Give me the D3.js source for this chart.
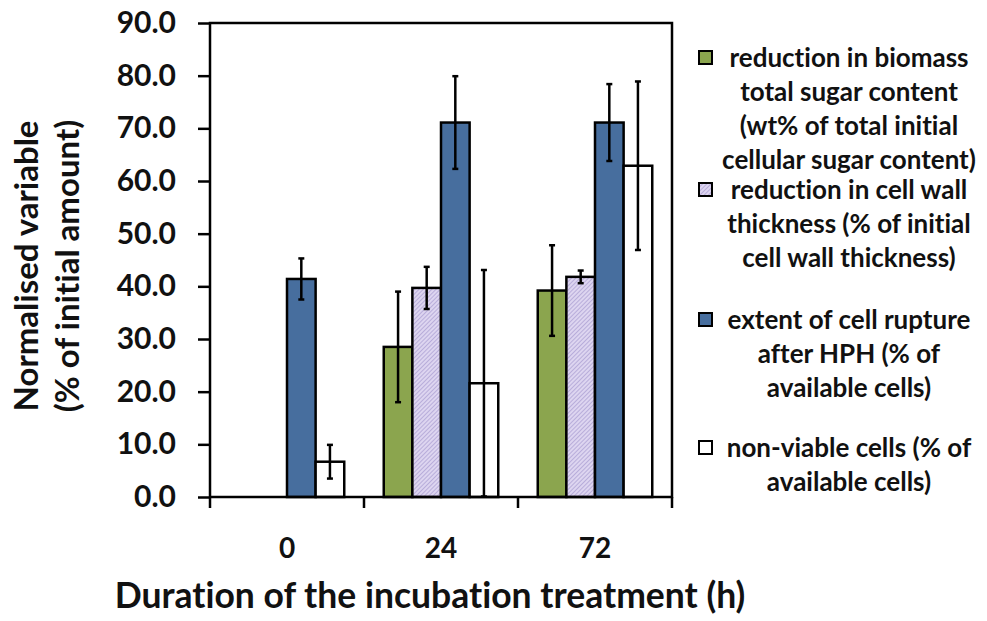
<!DOCTYPE html>
<html>
<head>
<meta charset="utf-8">
<script src="https://cdn.jsdelivr.net/npm/d3@7"></script>
<style>
  body { margin: 0; background: #fff; }
  text { font-family: Lato, "Open Sans", sans-serif; font-weight: bold; fill: #111; font-variant-ligatures: none; }
</style>
</head>
<body>
<svg id="svg"></svg>
<script>
// hours of incubation
const durations = ['0', '24', '72'];
const seriesKeys = ['biomass', 'wall', 'rupture', 'nonviable'];

// bar heights per series (null = not measured)
const biomassSugar = [null, 28.5, 39.2];
const wallThickness = [null, 39.7, 41.8];
const cellRupture = [41.4, 71.1, 71.1];
const nonViable = [6.7, 21.6, 62.9];

// error bar half-widths
const biomassErr = [null, 10.5, 8.6];
const wallErr = [null, 4.0, 1.2];
const ruptureErr = [3.9, 8.8, 7.3];
const nonViableErr = [3.2, 21.5, 16.0];

const yTicks = [0, 10, 20, 30, 40, 50, 60, 70, 80, 90];

const legendLines = [
  ['reduction in biomass', 'total sugar content', '(wt% of total initial', 'cellular sugar content)'],
  ['reduction in cell wall', 'thickness (% of initial', 'cell wall thickness)'],
  ['extent of cell rupture', 'after HPH (% of', 'available cells)'],
  ['non-viable cells (% of', 'available cells)']
];

const width = 987;
const height = 621;
const margin = { top: 23, right: 315, bottom: 124, left: 210 };

const svg = d3.select('#svg')
  .attr('width', width)
  .attr('height', height);

// hatch for the cell wall series
const defs = svg.append('defs');
const hatch = defs.append('pattern')
  .attr('id', 'hatch')
  .attr('patternUnits', 'userSpaceOnUse')
  .attr('width', 3)
  .attr('height', 3)
  .attr('patternTransform', 'rotate(45)');
hatch.append('rect')
  .attr('width', 3)
  .attr('height', 3)
  .attr('fill', '#ddd5f0');
hatch.append('line')
  .attr('x1', 0).attr('y1', 0)
  .attr('x2', 0).attr('y2', 3)
  .attr('stroke', '#a093cb')
  .attr('stroke-width', 1.2);

const fills = {
  biomass: '#8ba54e',
  wall: 'url(#hatch)',
  rupture: '#476e9e',
  nonviable: '#ffffff'
};

const rows = durations.map((d, i) => ({
  duration: d,
  values: [
    { key: 'biomass', value: biomassSugar[i], err: biomassErr[i] },
    { key: 'wall', value: wallThickness[i], err: wallErr[i] },
    { key: 'rupture', value: cellRupture[i], err: ruptureErr[i] },
    { key: 'nonviable', value: nonViable[i], err: nonViableErr[i] }
  ]
}));

const x0 = d3.scaleBand()
  .domain(durations)
  .range([margin.left, width - margin.right])
  .padding(0);

const x1 = d3.scaleBand()
  .domain(seriesKeys)
  .range([0, x0.bandwidth()])
  .paddingInner(0)
  .paddingOuter(0.69);

const y = d3.scaleLinear()
  .domain([0, 90])
  .range([height - margin.bottom, margin.top]);

// axes
svg.append('g')
  .attr('transform', `translate(${margin.left},0)`)
  .call(d3.axisLeft(y).tickValues(yTicks).tickFormat(d3.format('.1f')).tickSize(12).tickPadding(22))
  .call(g => g.select('.domain').remove())
  .call(g => g.selectAll('line').attr('stroke', '#000').attr('stroke-width', 2.5))
  .call(g => g.selectAll('text').attr('font-size', '30px').attr('font-family', 'Lato').attr('font-weight', 'bold').attr('fill', '#111'));

const xAxis = svg.append('g')
  .attr('transform', `translate(0,${height - margin.bottom})`);
xAxis.selectAll('line')
  .data(durations.map(d => x0(d)).concat([x0.range()[1]]))
  .join('line')
  .attr('x1', d => d).attr('x2', d => d)
  .attr('y1', 0).attr('y2', 11)
  .attr('stroke', '#000')
  .attr('stroke-width', 2.5);
xAxis.selectAll('text')
  .data(durations)
  .join('text')
  .attr('x', d => x0(d) + x0.bandwidth() / 2)
  .attr('y', 61)
  .attr('text-anchor', 'middle')
  .attr('font-size', '28px')
  .text(d => d);

// bars
const groups = svg.append('g')
  .selectAll('g')
  .data(rows)
  .join('g')
  .attr('transform', d => `translate(${x0(d.duration)},0)`);

const cells = groups.selectAll('g')
  .data(d => d.values.filter(v => v.value !== null))
  .join('g');

cells.append('rect')
  .attr('x', d => x1(d.key))
  .attr('y', d => y(d.value))
  .attr('width', x1.bandwidth())
  .attr('height', d => y(0) - y(d.value))
  .attr('fill', d => fills[d.key])
  .attr('stroke', '#000')
  .attr('stroke-width', 2.5);

cells.append('line')
  .attr('x1', d => x1(d.key) + x1.bandwidth() / 2)
  .attr('x2', d => x1(d.key) + x1.bandwidth() / 2)
  .attr('y1', d => y(d.value + d.err))
  .attr('y2', d => y(d.value - d.err))
  .attr('stroke', '#000')
  .attr('stroke-width', 2.5);

cells.selectAll('.cap')
  .data(d => [d.value + d.err, d.value - d.err].map(v => ({ key: d.key, v })))
  .join('line')
  .attr('class', 'cap')
  .attr('x1', d => x1(d.key) + x1.bandwidth() / 2 - 3)
  .attr('x2', d => x1(d.key) + x1.bandwidth() / 2 + 3)
  .attr('y1', d => y(d.v))
  .attr('y2', d => y(d.v))
  .attr('stroke', '#000')
  .attr('stroke-width', 2.5);

// plot frame
svg.append('rect')
  .attr('x', margin.left)
  .attr('y', margin.top)
  .attr('width', width - margin.left - margin.right)
  .attr('height', height - margin.top - margin.bottom)
  .attr('fill', 'none')
  .attr('stroke', '#000')
  .attr('stroke-width', 2.5);

// axis titles
svg.append('text')
  .attr('transform', 'translate(38,266) rotate(-90)')
  .attr('text-anchor', 'middle')
  .attr('font-size', '33px')
  .text('Normalised variable');
svg.append('text')
  .attr('transform', 'translate(79,266) rotate(-90)')
  .attr('text-anchor', 'middle')
  .attr('font-size', '33px')
  .text('(% of initial amount)');

svg.append('text')
  .attr('x', 430)
  .attr('y', 608)
  .attr('text-anchor', 'middle')
  .attr('font-size', '35.5px')
  .text('Duration of the incubation treatment (h)');

// legend
const legendTops = [58, 190, 320, 448];
const lineGap = 34;
const legend = svg.append('g');
const entries = legend.selectAll('g')
  .data(seriesKeys)
  .join('g')
  .attr('transform', (d, i) => `translate(0,${legendTops[i]})`);

entries.append('rect')
  .attr('x', 699)
  .attr('y', -7)
  .attr('width', 13)
  .attr('height', 13)
  .attr('fill', d => fills[d])
  .attr('stroke', '#000')
  .attr('stroke-width', 2);

entries.selectAll('text')
  .data((d, i) => legendLines[i])
  .join('text')
  .attr('x', 849)
  .attr('y', (d, j) => j * lineGap)
  .attr('dy', '0.35em')
  .attr('text-anchor', 'middle')
  .attr('font-size', '26px')
  .text(d => d);
</script>
</body>
</html>
